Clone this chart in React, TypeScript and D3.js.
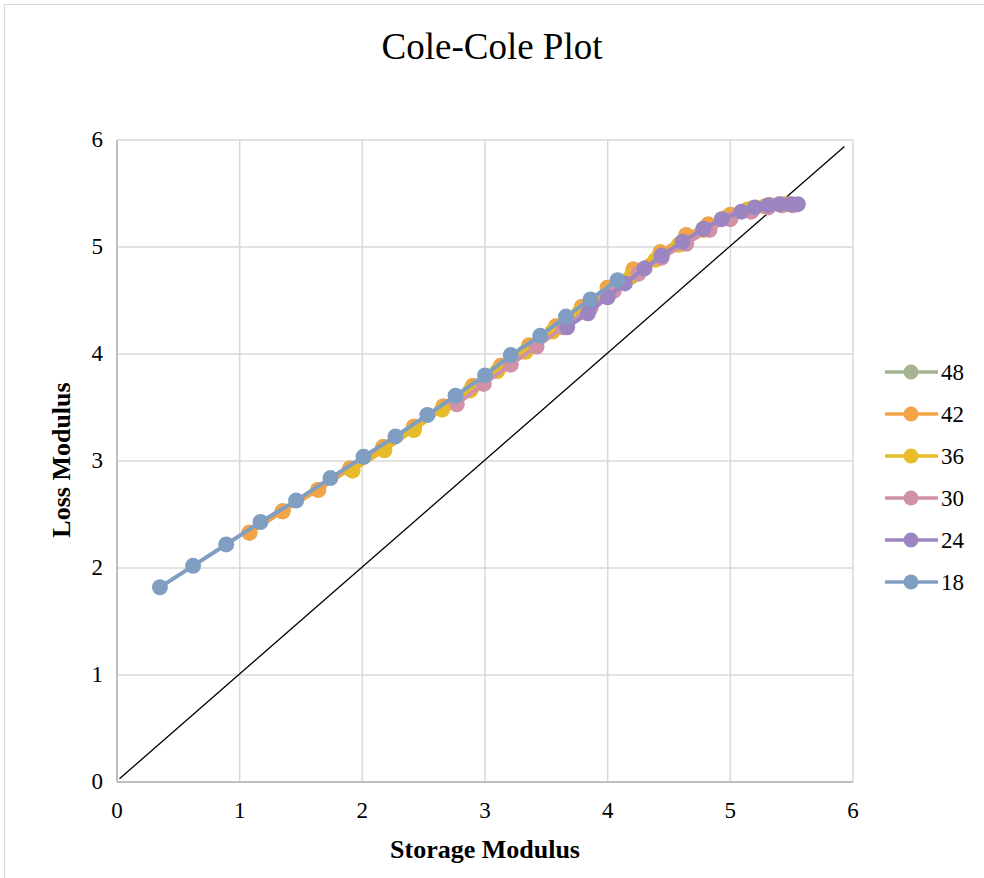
import React from "react";
import * as d3 from "d3";

const seriesNames = ["48", "42", "36", "30", "24", "18"];
const seriesColors = ["#a5b592", "#f3a447", "#e7bc29", "#d092a7", "#9c85c0", "#809ec2"];

const x48 = [1.08, 1.35, 1.64, 1.9, 2.17, 2.42, 2.66, 2.9, 3.13, 3.36, 3.58, 3.79, 4.0, 4.21, 4.43, 4.64, 4.82, 5.0, 5.18, 5.32, 5.45];
const y48 = [2.33, 2.53, 2.73, 2.93, 3.13, 3.32, 3.51, 3.7, 3.89, 4.08, 4.26, 4.44, 4.62, 4.79, 4.95, 5.11, 5.21, 5.3, 5.36, 5.39, 5.4];

const x42 = [1.08, 1.35, 1.64, 1.9, 2.17, 2.42, 2.66, 2.9, 3.13, 3.36, 3.58, 3.79, 4.0, 4.21, 4.43, 4.64, 4.82, 5.0, 5.18, 5.32, 5.45];
const y42 = [2.33, 2.53, 2.73, 2.93, 3.13, 3.32, 3.51, 3.7, 3.89, 4.08, 4.26, 4.44, 4.62, 4.79, 4.95, 5.11, 5.21, 5.3, 5.36, 5.39, 5.4];

const x36 = [1.92, 2.18, 2.42, 2.65, 2.88, 3.1, 3.33, 3.55, 3.77, 3.99, 4.19, 4.39, 4.58, 4.78, 4.96, 5.14, 5.28, 5.41, 5.5];
const y36 = [2.91, 3.1, 3.29, 3.48, 3.66, 3.84, 4.02, 4.21, 4.39, 4.56, 4.72, 4.88, 5.02, 5.16, 5.27, 5.35, 5.38, 5.4, 5.4];

const x30 = [2.77, 2.99, 3.21, 3.42, 3.64, 3.86, 4.05, 4.25, 4.44, 4.64, 4.83, 5.0, 5.17, 5.31, 5.42, 5.51];
const y30 = [3.53, 3.72, 3.9, 4.07, 4.25, 4.43, 4.59, 4.75, 4.9, 5.03, 5.16, 5.26, 5.33, 5.37, 5.39, 5.39];

const x24 = [3.67, 3.84, 4.0, 4.14, 4.3, 4.44, 4.61, 4.78, 4.93, 5.09, 5.2, 5.31, 5.4, 5.49, 5.55];
const y24 = [4.25, 4.38, 4.53, 4.66, 4.8, 4.92, 5.05, 5.17, 5.26, 5.33, 5.37, 5.39, 5.4, 5.4, 5.4];

const x18 = [0.35, 0.62, 0.89, 1.17, 1.46, 1.74, 2.01, 2.27, 2.53, 2.76, 3.0, 3.21, 3.45, 3.66, 3.86, 4.08];
const y18 = [1.82, 2.02, 2.22, 2.43, 2.63, 2.84, 3.04, 3.23, 3.43, 3.61, 3.8, 3.99, 4.17, 4.35, 4.51, 4.69];

const refLineX = [0.02, 5.93];
const refLineY = [0.03, 5.94];

const xTicks = [0, 1, 2, 3, 4, 5, 6];
const yTicks = [0, 1, 2, 3, 4, 5, 6];

const seriesX = [x48, x42, x36, x30, x24, x18];
const seriesY = [y48, y42, y36, y30, y24, y18];

const W = 984;
const H = 878;
const left = 117;
const right = 853;
const top = 140;
const bottom = 782;
const font = "'Liberation Serif', 'Times New Roman', serif";

export default function App() {
  const xs = d3.scaleLinear().domain([0, 6]).range([left, right]);
  const ys = d3.scaleLinear().domain([0, 6]).range([bottom, top]);
  const line = d3
    .line<[number, number]>()
    .x((d) => xs(d[0]))
    .y((d) => ys(d[1]));

  const series = seriesNames.map((name, i) => ({
    name,
    color: seriesColors[i],
    pts: seriesX[i].map((v, j) => [v, seriesY[i][j]] as [number, number]),
  }));

  const refPts: [number, number][] = refLineX.map((v, i) => [v, refLineY[i]]);

  return (
    <svg
      width={W}
      height={H}
      style={{ position: "absolute", left: 0, top: 0, background: "#fff" }}
      fontFamily={font}
    >
      <rect x={0} y={0} width={W} height={H} fill="#fff" />
      <rect x={4.5} y={4.5} width={W + 20} height={H + 20} fill="none" stroke="#d9d9d9" strokeWidth={1} />
      <text x={492} y={59} textAnchor="middle" fontSize={37} fill="#000">
        Cole-Cole Plot
      </text>
      {xTicks.map((t) => (
        <line key={"gx" + t} x1={xs(t)} x2={xs(t)} y1={top} y2={bottom} stroke="#d9d9d9" strokeWidth={1.5} />
      ))}
      {yTicks.map((t) => (
        <line key={"gy" + t} x1={left} x2={right} y1={ys(t)} y2={ys(t)} stroke="#d9d9d9" strokeWidth={1.5} />
      ))}
      <line x1={left} x2={right} y1={bottom} y2={bottom} stroke="#bfbfbf" strokeWidth={2} />
      <line x1={left} x2={left} y1={top} y2={bottom} stroke="#bfbfbf" strokeWidth={2} />
      {yTicks.map((t) => (
        <text key={"ty" + t} x={left - 14} y={ys(t) + 7} textAnchor="end" fontSize={23} fill="#000">
          {t}
        </text>
      ))}
      {xTicks.map((t) => (
        <text key={"tx" + t} x={xs(t)} y={bottom + 36} textAnchor="middle" fontSize={23} fill="#000">
          {t}
        </text>
      ))}
      <text x={485} y={858} textAnchor="middle" fontSize={26} fontWeight="bold" fill="#000">
        Storage Modulus
      </text>
      <text
        transform={`translate(70,460) rotate(-90)`}
        textAnchor="middle"
        fontSize={26}
        fontWeight="bold"
        fill="#000"
      >
        Loss Modulus
      </text>
      <path d={line(refPts) || ""} fill="none" stroke="#000" strokeWidth={1.3} />
      {series.map((s) => (
        <g key={s.name}>
          <path d={line(s.pts) || ""} fill="none" stroke={s.color} strokeWidth={4} strokeLinejoin="round" />
          {s.pts.map((p, j) => (
            <circle key={j} cx={xs(p[0])} cy={ys(p[1])} r={8} fill={s.color} />
          ))}
        </g>
      ))}
      {series.map((s, i) => {
        const ly = 372 + i * 42;
        return (
          <g key={"lg" + s.name}>
            <line x1={885} x2={938} y1={ly} y2={ly} stroke={s.color} strokeWidth={3.5} />
            <circle cx={911} cy={ly} r={7.5} fill={s.color} />
            <text x={941} y={ly + 8} fontSize={23} fill="#000">
              {s.name}
            </text>
          </g>
        );
      })}
    </svg>
  );
}
